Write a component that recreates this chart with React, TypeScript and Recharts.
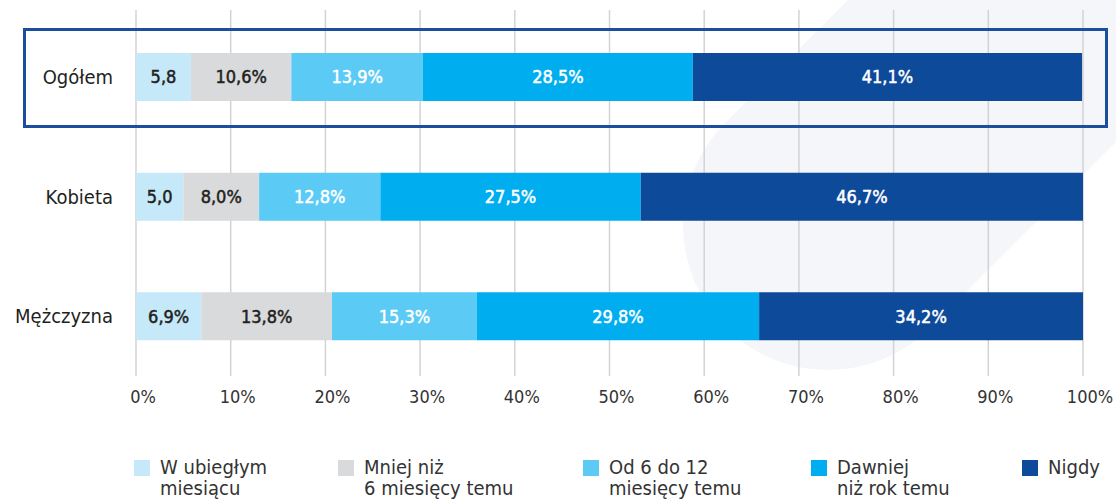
import { BarChart, Bar, XAxis, YAxis, CartesianGrid, LabelList } from "recharts";

// grupy (oś Y)
const groups = ["Ogółem", "Kobieta", "Mężczyzna"];

// odsetki dla każdej kategorii odpowiedzi, w kolejności grup
const lastMonth = [5.8, 5.0, 6.9];
const under6m = [10.6, 8.0, 13.8];
const from6to12m = [13.9, 12.8, 15.3];
const overYear = [28.5, 27.5, 29.8];
const never = [41.1, 46.7, 34.2];

const xTicks = [0, 10, 20, 30, 40, 50, 60, 70, 80, 90, 100];

const seriesNames = [
  "W ubiegłym\nmiesiącu",
  "Mniej niż\n6 miesięcy temu",
  "Od 6 do 12\nmiesięcy temu",
  "Dawniej\nniż rok temu",
  "Nigdy",
];

const FONT = "'DejaVu Sans Condensed', 'DejaVu Sans', sans-serif";

const series = [
  { key: "s1", values: lastMonth, color: "#c5e9f9", text: "#231f20" },
  { key: "s2", values: under6m, color: "#d9dadc", text: "#231f20" },
  { key: "s3", values: from6to12m, color: "#5bcbf5", text: "#ffffff" },
  { key: "s4", values: overYear, color: "#00aeef", text: "#ffffff" },
  { key: "s5", values: never, color: "#0d4a9a", text: "#ffffff" },
];

const data = groups.map((name, i) => {
  const row: any = { name };
  series.forEach((s) => (row[s.key] = s.values[i]));
  return row;
});

// bardzo wąskie segmenty bez znaku %
const fmt = (v: any) => {
  const n = Number(v);
  const s = n.toFixed(1).replace(".", ",");
  return n < 6 ? s : s + "%";
};

const legendLeft = [134, 338, 583, 811, 1022];

const XTick = ({ x, y, payload }: any) => (
  <text x={x + 7} y={y + 19} textAnchor="middle" fill="#333" fontSize={18} fontFamily={FONT}>
    {payload.value}%
  </text>
);

const YTick = ({ x, y, payload }: any) => (
  <text x={x - 15} y={y} dy="0.35em" textAnchor="end" fill="#231f20" fontSize={20} fontFamily={FONT}>
    {payload.value}
  </text>
);

export default function App() {
  return (
    <div style={{ position: "absolute", left: 0, top: 0, width: 1116, height: 500, background: "#fff", overflow: "hidden" }}>
      {/* tło dekoracyjne */}
      <svg width={1116} height={500} style={{ position: "absolute", left: 0, top: 0 }}>
        <line x1={828} y1={225} x2={1300} y2={-247} stroke="#f4f6fa" strokeWidth={290} strokeLinecap="round" />
      </svg>

      <div style={{ position: "absolute", left: 0, top: 0 }}>
        <BarChart
          width={1116}
          height={406}
          data={data}
          layout="vertical"
          margin={{ top: 10, right: 33, bottom: 0, left: 0 }}
          barSize={48}
        >
          <CartesianGrid horizontal={false} stroke="#d3d3d3" strokeWidth={1.5} />
          <XAxis
            type="number"
            domain={[0, 100]}
            ticks={xTicks}
            axisLine={false}
            tickLine={false}
            height={30}
            tick={<XTick />}
          />
          <YAxis
            type="category"
            dataKey="name"
            width={136}
            axisLine={false}
            tickLine={false}
            padding={{ top: 7, bottom: 0 }}
            tick={<YTick />}
          />
          {series.map((s) => (
            <Bar key={s.key} dataKey={s.key} stackId="a" fill={s.color} isAnimationActive={false}>
              <LabelList
                dataKey={s.key}
                position="center"
                formatter={fmt}
                fill={s.text}
                stroke={s.text}
                strokeWidth={0.5}
                fontSize={18}
                fontFamily={FONT}
              />
            </Bar>
          ))}
        </BarChart>
      </div>

      {/* wyróżnienie wiersza Ogółem */}
      <div
        style={{
          position: "absolute",
          left: 23,
          top: 28,
          width: 1079,
          height: 94,
          border: "3px solid #1b4f9e",
          pointerEvents: "none",
        }}
      />

      {/* legenda */}
      {series.map((s, i) => (
        <div key={s.key} style={{ position: "absolute", left: legendLeft[i], top: 459, display: "flex", fontFamily: FONT }}>
          <div style={{ width: 16, height: 16, background: s.color, marginTop: 1, flex: "none" }} />
          <div style={{ marginLeft: 10, fontSize: 20, lineHeight: "21px", color: "#333", whiteSpace: "pre", marginTop: -2 }}>
            {seriesNames[i]}
          </div>
        </div>
      ))}
    </div>
  );
}
